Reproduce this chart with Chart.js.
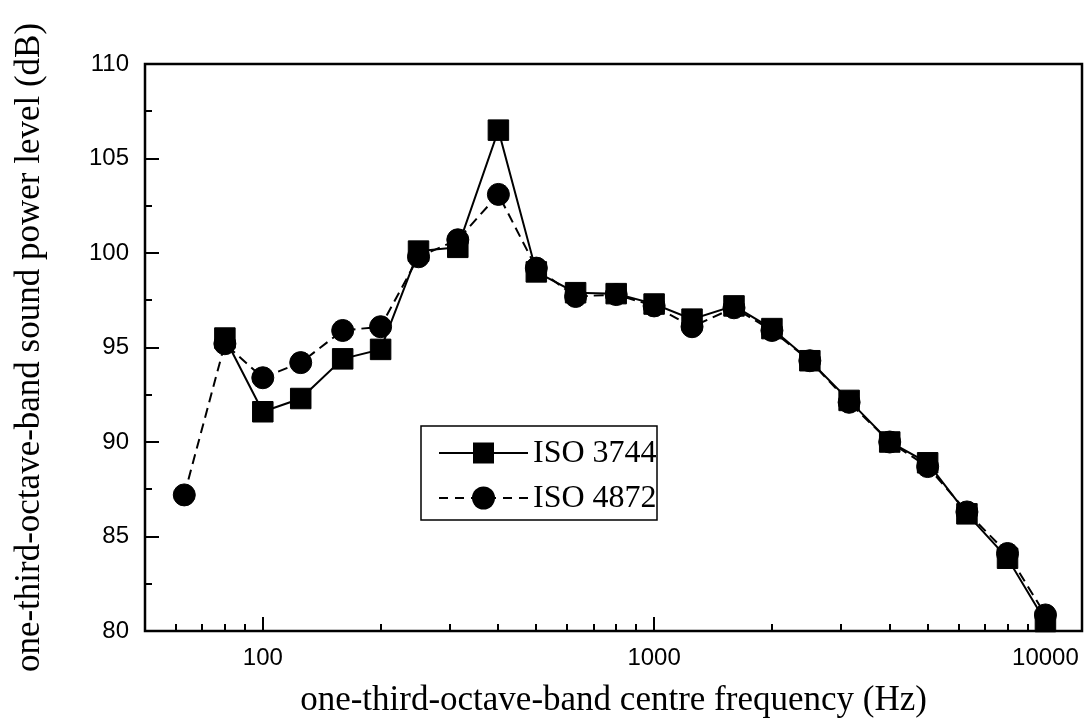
<!DOCTYPE html>
<html>
<head>
<meta charset="utf-8">
<script src="https://cdn.jsdelivr.net/npm/chart.js@4/dist/chart.umd.min.js"></script>
<style>
  html, body { margin: 0; padding: 0; background: #fff; }
</style>
</head>
<body>
<canvas id="spl" width="1084" height="722"></canvas>
<script>
// one-third-octave band centre frequencies (Hz)
var freqs = [63, 80, 100, 125, 160, 200, 250, 315, 400, 500, 630, 800, 1000, 1250, 1600, 2000, 2500, 3150, 4000, 5000, 6300, 8000, 10000];
// sound power level (dB)
var iso3744 = [null, 95.5, 91.6, 92.3, 94.4, 94.9, 100.1, 100.3, 106.5, 99.0, 97.9, 97.85, 97.3, 96.5, 97.2, 96.0, 94.3, 92.2, 90.0, 88.9, 86.2, 83.85, 80.5];
var iso4872 = [87.2, 95.2, 93.4, 94.2, 95.9, 96.1, 99.8, 100.7, 103.1, 99.2, 97.7, 97.8, 97.2, 96.1, 97.1, 95.9, 94.3, 92.1, 90.0, 88.7, 86.3, 84.1, 80.85];
var seriesNames = ['ISO 3744', 'ISO 4872'];

var xTickValues = [50, 60, 70, 80, 90, 100, 200, 300, 400, 500, 600, 700, 800, 900, 1000, 2000, 3000, 4000, 5000, 6000, 7000, 8000, 9000, 10000];
var xLabelValues = [100, 1000, 10000];
var yTickValues = [80, 82.5, 85, 87.5, 90, 92.5, 95, 97.5, 100, 102.5, 105, 107.5, 110];
var yLabelValues = [80, 85, 90, 95, 100, 105, 110];

function pairs(ys) {
  return freqs.map(function (f, i) { return { x: f, y: ys[i] }; });
}

// frame + inward ticks like the original plot
var frameTicks = {
  id: 'frameTicks',
  beforeDatasetsDraw: function (chart) {
    var ctx = chart.ctx, a = chart.chartArea;
    var xs = chart.scales.x, ys = chart.scales.y;
    ctx.save();
    ctx.strokeStyle = '#000';
    ctx.lineWidth = 2;
    xs.ticks.forEach(function (t) {
      var px = Math.round(xs.getPixelForValue(t.value));
      var len = xLabelValues.indexOf(t.value) >= 0 ? 14 : 7;
      ctx.beginPath();
      ctx.moveTo(px, a.bottom);
      ctx.lineTo(px, a.bottom - len);
      ctx.stroke();
    });
    ys.ticks.forEach(function (t) {
      var py = Math.round(ys.getPixelForValue(t.value));
      var len = yLabelValues.indexOf(t.value) >= 0 ? 14 : 7;
      ctx.beginPath();
      ctx.moveTo(a.left, py);
      ctx.lineTo(a.left + len, py);
      ctx.stroke();
    });
    ctx.lineWidth = 2.5;
    ctx.strokeRect(a.left, a.top, a.right - a.left, a.bottom - a.top);
    ctx.restore();
  }
};

// boxed legend with line + marker samples
var boxLegend = {
  id: 'boxLegend',
  afterDraw: function (chart) {
    var ctx = chart.ctx;
    ctx.save();
    ctx.strokeStyle = '#000';
    ctx.fillStyle = '#000';
    ctx.lineWidth = 1.5;
    ctx.strokeRect(421, 426, 236, 94);
    var rows = [453, 498];
    rows.forEach(function (y, i) {
      ctx.lineWidth = 2;
      ctx.setLineDash(i === 0 ? [] : [9, 7]);
      ctx.beginPath();
      ctx.moveTo(439, y);
      ctx.lineTo(528, y);
      ctx.stroke();
      ctx.setLineDash([]);
      ctx.beginPath();
      if (i === 0) {
        ctx.rect(473, y - 10.5, 21, 21);
      } else {
        ctx.arc(483.5, y, 11.5, 0, Math.PI * 2);
      }
      ctx.fill();
      ctx.font = '32px "Liberation Serif"';
      ctx.textBaseline = 'middle';
      ctx.fillText(chart.data.datasets[i].label, 533, y + 1);
    });
    ctx.restore();
  }
};

new Chart(document.getElementById('spl'), {
  type: 'line',
  data: {
    datasets: [
      {
        label: seriesNames[0],
        data: pairs(iso3744),
        borderColor: '#000',
        backgroundColor: '#000',
        borderWidth: 2,
        pointStyle: 'rect',
        pointRadius: 14.5,
        pointBorderWidth: 1,
        pointBackgroundColor: '#000',
        tension: 0,
        clip: false
      },
      {
        label: seriesNames[1],
        data: pairs(iso4872),
        borderColor: '#000',
        backgroundColor: '#000',
        borderWidth: 2,
        borderDash: [10, 6],
        pointStyle: 'circle',
        pointRadius: 11,
        pointBorderWidth: 1,
        pointBackgroundColor: '#000',
        tension: 0,
        clip: false
      }
    ]
  },
  options: {
    responsive: false,
    animation: false,
    layout: { autoPadding: false, padding: { top: 64, right: 2, left: 0, bottom: 0 } },
    plugins: {
      legend: { display: false },
      tooltip: { enabled: false }
    },
    scales: {
      x: {
        type: 'logarithmic',
        min: 50,
        max: 12400,
        afterBuildTicks: function (s) {
          s.ticks = xTickValues.map(function (v) { return { value: v }; });
        },
        afterFit: function (s) {
          s.height = 91;
          s.paddingLeft = 0;
          s.paddingRight = 0;
        },
        grid: { display: false, drawTicks: false },
        border: { display: false },
        ticks: {
          autoSkip: false,
          maxRotation: 0,
          padding: 13,
          color: '#000',
          font: { family: '"Liberation Sans", Arial', size: 24 },
          callback: function (v) { return xLabelValues.indexOf(v) >= 0 ? String(v) : ''; }
        },
        title: {
          display: true,
          text: 'one-third-octave-band centre frequency (Hz)',
          color: '#000',
          font: { family: '"Liberation Serif"', size: 35 },
          padding: { top: 0, bottom: 0 }
        }
      },
      y: {
        type: 'linear',
        min: 80,
        max: 110,
        afterBuildTicks: function (s) {
          s.ticks = yTickValues.map(function (v) { return { value: v }; });
        },
        afterFit: function (s) {
          s.width = 145;
          s.paddingTop = 0;
          s.paddingBottom = 0;
        },
        grid: { display: false, drawTicks: false },
        border: { display: false },
        ticks: {
          autoSkip: false,
          padding: 16,
          color: '#000',
          font: { family: '"Liberation Sans", Arial', size: 24 },
          callback: function (v) { return yLabelValues.indexOf(v) >= 0 ? String(v) : ''; }
        },
        title: {
          display: true,
          text: 'one-third-octave-band sound power level (dB)',
          color: '#000',
          font: { family: '"Liberation Serif"', size: 35 },
          padding: { top: 9, bottom: 0 }
        }
      }
    }
  },
  plugins: [frameTicks, boxLegend]
});
</script>
</body>
</html>
